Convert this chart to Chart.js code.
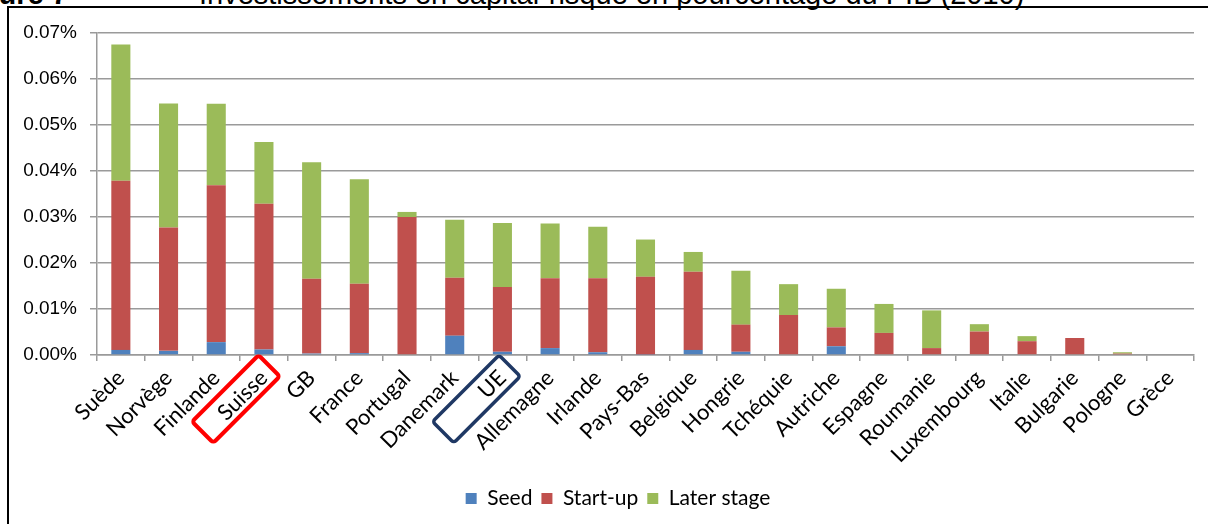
<!DOCTYPE html>
<html>
<head>
<meta charset="utf-8">
<script src="https://cdn.jsdelivr.net/npm/chart.js@4.4.1/dist/chart.umd.min.js"></script>
<style>
  html, body { margin: 0; padding: 0; background: #fff; overflow: hidden; }
  #wrap { position: relative; width: 1208px; height: 524px; }
  #frame {
    position: absolute; left: 7px; top: 6px; width: 1300px; height: 600px;
    border-top: 2px solid #000; border-left: 2px solid #000;
  }
  .title {
    position: absolute; top: -20px; font: 29px "Liberation Sans", Arial, sans-serif;
    line-height: 1; white-space: nowrap; color: #000;
  }
  #chartBox { position: absolute; left: 0; top: 0; width: 1208px; height: 524px; }
</style>
</head>
<body>
<div id="wrap">
  <div class="title" style="left:-45px;font-weight:bold">Figure 7</div>
  <div class="title" style="left:199px">Investissements en capital-risque en pourcentage du PIB (2010)</div>
  <div id="frame"></div>
  <div id="chartBox"><canvas id="chart"></canvas></div>
</div>
<script>
// ── Data (values in % of GDP) ────────────────────────────────────────────────
const countries = ['Suède', 'Norvège', 'Finlande', 'Suisse', 'GB', 'France', 'Portugal', 'Danemark',
  'UE', 'Allemagne', 'Irlande', 'Pays-Bas', 'Belgique', 'Hongrie', 'Tchéquie', 'Autriche',
  'Espagne', 'Roumanie', 'Luxembourg', 'Italie', 'Bulgarie', 'Pologne', 'Grèce']
const seed = [0.0011, 0.0009, 0.0028, 0.0012, 0.0003, 0.0004, 0, 0.0042,
  0.0007, 0.0015, 0.0006, 0.0001, 0.0011, 0.0007, 0, 0.0019,
  0, 0, 0, 0, 0, 0, 0]
const startUp = [0.0368, 0.0268, 0.0341, 0.0317, 0.0163, 0.0151, 0.0300, 0.0126,
  0.0141, 0.0152, 0.0161, 0.0169, 0.0170, 0.0059, 0.0087, 0.0041,
  0.0048, 0.0015, 0.0051, 0.0030, 0.0037, 0.0003, 0]
const laterStage = [0.0296, 0.0270, 0.0177, 0.0134, 0.0253, 0.0227, 0.0011, 0.0126,
  0.0139, 0.0119, 0.0112, 0.0081, 0.0043, 0.0117, 0.0067, 0.0084,
  0.0063, 0.0082, 0.0016, 0.0011, 0, 0.0003, 0]
const yTickLabels = ['0.00%', '0.01%', '0.02%', '0.03%', '0.04%', '0.05%', '0.06%', '0.07%']

// highlighted categories: [label, colour, line width, dx, dy from tick/axis]
const highlights = [
  ['Suisse', '#ff0000', 4, -28, 44],
  ['UE', '#1f3864', 3.5, -26, 44]
]

const GRID = '#9a9a9a'
const LABEL_FONT = 'Lato'
const LEGEND_SHIFT = 21 // original legend is centred under the plot area, not the canvas

// ── Plugins ──────────────────────────────────────────────────────────────────
const legendShift = {
  id: 'legendShift',
  afterLayout(chart) {
    chart.legend.left += LEGEND_SHIFT
    chart.legend.right += LEGEND_SHIFT
  }
}

// boxes drawn round rotated labels
const highlightPlugin = {
  id: 'highlights',
  afterDraw(chart) {
    const { ctx, chartArea } = chart
    const xs = chart.scales.x
    for (const [name, colour, lw, dx, dy] of highlights) {
      const cx = xs.getPixelForValue(countries.indexOf(name)) + dx
      const cy = chartArea.bottom + dy
      ctx.save()
      ctx.translate(cx, cy)
      ctx.rotate(-Math.PI / 4)
      ctx.strokeStyle = colour
      ctx.lineWidth = lw
      ctx.beginPath()
      ctx.roundRect(-47, -15, 94, 30, 3)
      ctx.stroke()
      ctx.restore()
    }
  }
}

// ── Chart ────────────────────────────────────────────────────────────────────
new Chart(document.getElementById('chart'), {
  type: 'bar',
  data: {
    labels: countries,
    datasets: [
      { label: 'Seed', data: seed, backgroundColor: '#4f81bd' },
      { label: 'Start-up', data: startUp, backgroundColor: '#c0504d' },
      { label: 'Later stage', data: laterStage, backgroundColor: '#9bbb59' }
    ]
  },
  options: {
    responsive: true,
    maintainAspectRatio: false,
    animation: false,
    datasets: { bar: { categoryPercentage: 1, barPercentage: 0.4 } },
    layout: { padding: { left: 0, right: 14, top: 33, bottom: 5 } },
    plugins: {
      tooltip: { enabled: false },
      legend: {
        position: 'bottom',
        labels: {
          boxWidth: 11, boxHeight: 11, padding: 9, color: '#000',
          font: { family: LABEL_FONT, size: 21 }
        }
      }
    },
    scales: {
      x: {
        stacked: true,
        afterFit: s => { s.height = 124 },
        grid: { display: true, drawOnChartArea: false, offset: true, color: GRID, lineWidth: 1.5, tickLength: 6 },
        border: { color: GRID, width: 1.5 },
        ticks: {
          minRotation: 45, maxRotation: 45, autoSkip: false, padding: 4, color: '#000',
          font: { family: LABEL_FONT, size: 22 }
        }
      },
      y: {
        stacked: true,
        min: 0, max: 0.07,
        afterFit: s => { s.width = 97 },
        grid: { color: GRID, lineWidth: 1.5, tickLength: 7 },
        border: { color: GRID, width: 1.5 },
        ticks: {
          stepSize: 0.01, padding: 13, color: '#000',
          font: { family: 'Liberation Sans', size: 19 },
          callback: (v, i) => yTickLabels[i]
        }
      }
    }
  },
  plugins: [legendShift, highlightPlugin]
})
</script>
</body>
</html>
